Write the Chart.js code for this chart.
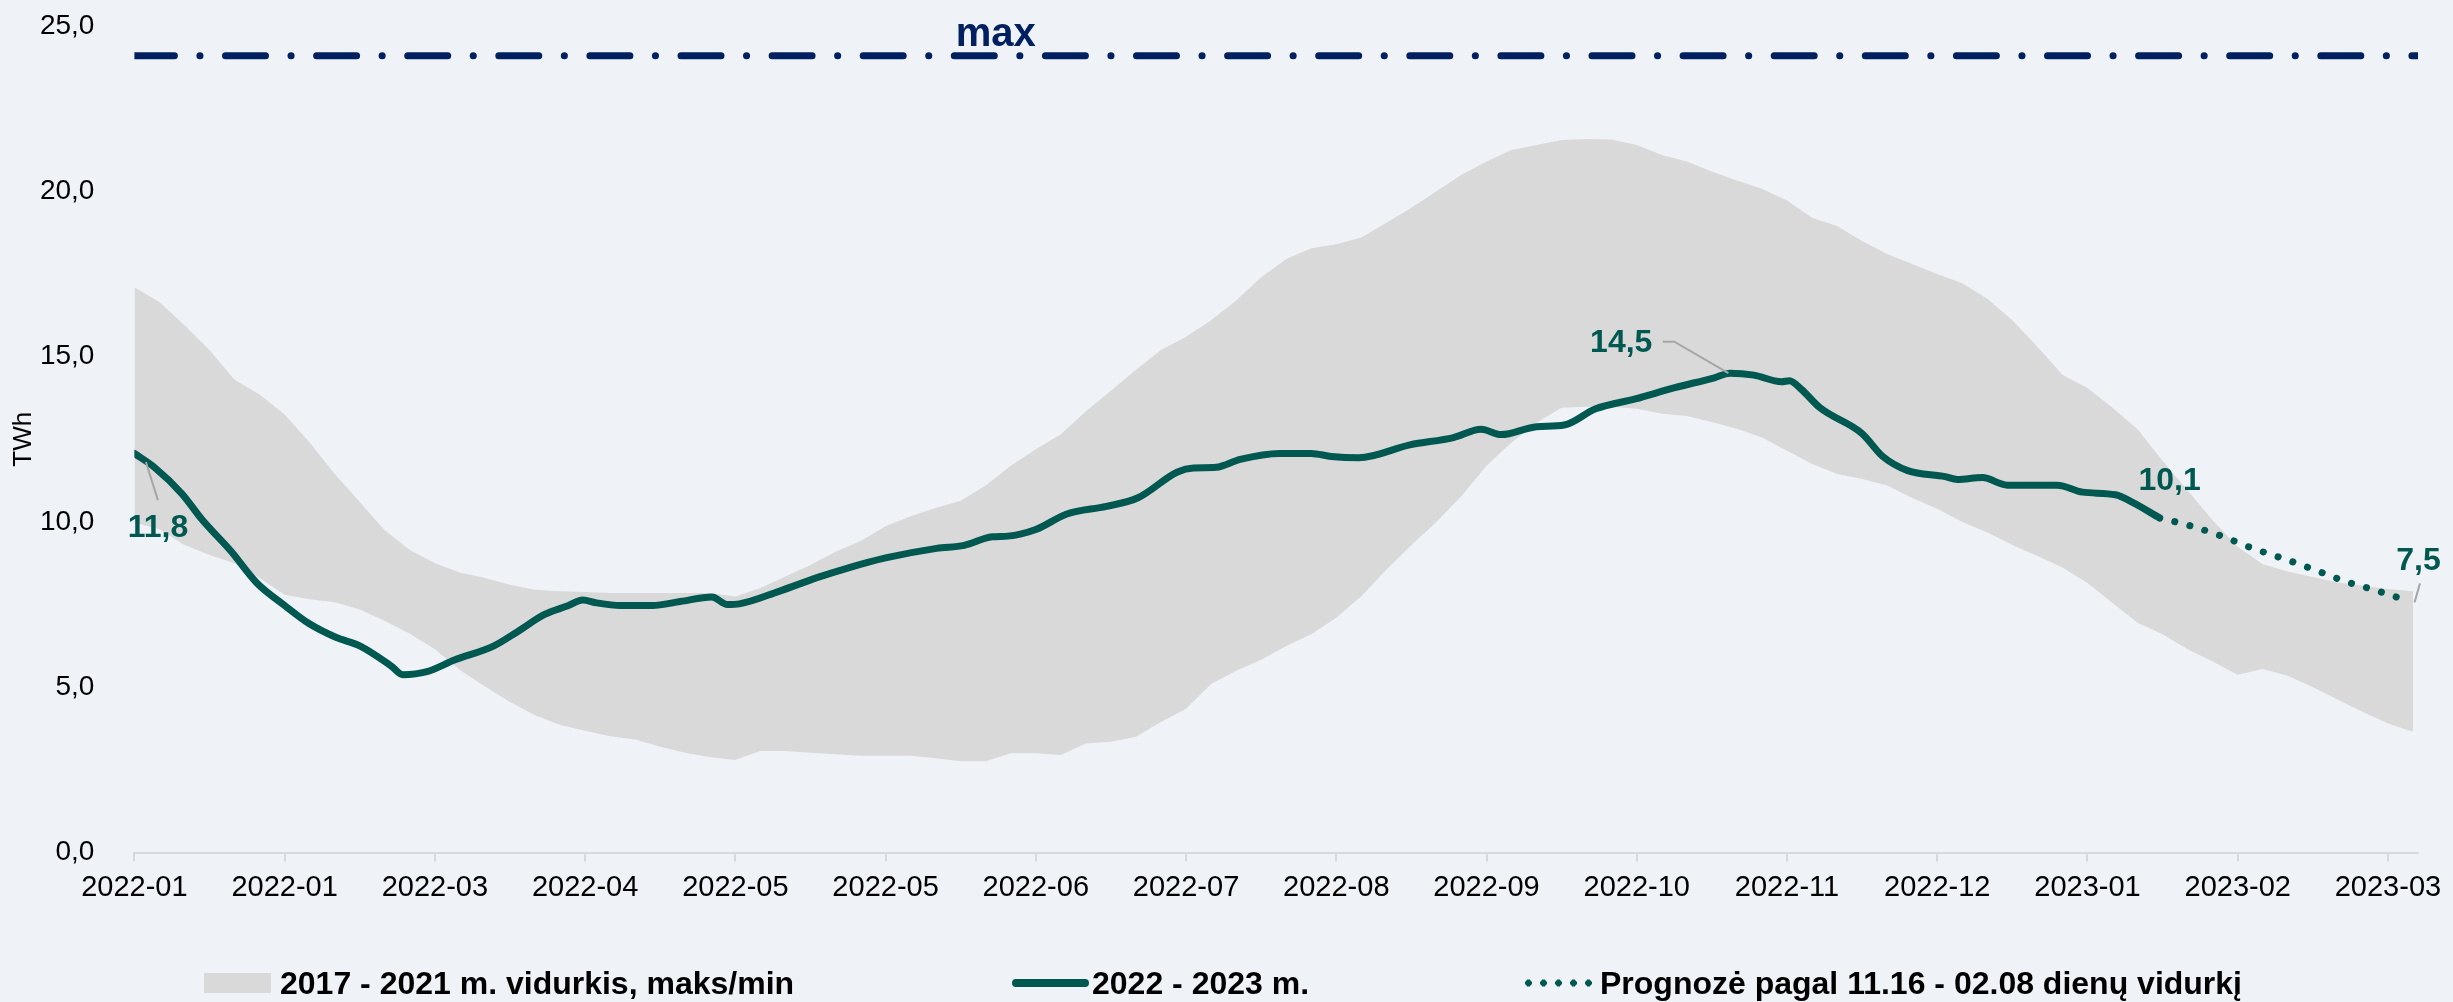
<!DOCTYPE html>
<html lang="lt">
<head>
  <meta charset="UTF-8" />
  <title>Dujų saugykla, TWh</title>
  <script src="https://cdn.jsdelivr.net/npm/chart.js@4.4.1/dist/chart.umd.min.js"></script>
  <style>
    html, body { margin: 0; padding: 0; background: #eff3f7; }
    body { font-family: 'Liberation Sans', Arial, sans-serif; }
    .wrap { position: relative; width: 2453px; height: 1002px; }
    .legend { position: absolute; left: 0; top: 983px; width: 100%; height: 0; }
    .legend .sw, .legend .txt { position: absolute; top: 0; transform: translateY(-50%); }
    .legend .txt { font-weight: 700; font-size: 32px; color: #000; white-space: nowrap; }
    .sw.box { left: 204px; width: 67px; height: 20px; background: #d9d9d9; }
    .sw.line { left: 1012px; width: 77px; height: 8px; border-radius: 4px; background: #005850; }
    .sw.dots { left: 1521px; width: 75px; height: 7px;
      background: radial-gradient(circle, #005850 3.2px, transparent 3.6px) 0 0 / 15px 7px repeat-x; }
  </style>
</head>
<body>
  <div class="wrap">
    <canvas id="storageChart"></canvas>
    <div class="legend">
      <div class="sw box"></div><div class="txt" style="left:280px">2017 - 2021 m. vidurkis, maks/min</div>
      <div class="sw line"></div><div class="txt" style="left:1092px">2022 - 2023 m.</div>
      <div class="sw dots"></div><div class="txt" style="left:1600px">Prognozė pagal 11.16 - 02.08 dienų vidurkį</div>
    </div>
  </div>

  <script>
    // x values are days counted from 2022-01-01
    const tickDays = [0, 30, 60, 90, 120, 150, 180, 210, 240, 270, 300, 330, 360, 390, 420, 450];
    const tickLabels = ["2022-01", "2022-01", "2022-03", "2022-04", "2022-05", "2022-05", "2022-06", "2022-07",
      "2022-08", "2022-09", "2022-10", "2022-11", "2022-12", "2023-01", "2023-02", "2023-03"];

    // 2017-2021 band
    const bandDays = [0, 5, 10, 15, 20, 25, 30, 35, 40, 45, 50, 55, 60, 65, 70, 75, 80, 85, 90, 95,
      100, 105, 110, 115, 120, 125, 130, 135, 140, 145, 150, 155, 160, 165, 170, 175, 180, 185, 190, 195,
      200, 205, 210, 215, 220, 225, 230, 235, 240, 245, 250, 255, 260, 265, 270, 275, 280, 285, 290, 295,
      300, 305, 310, 315, 320, 325, 330, 335, 340, 345, 350, 355, 360, 365, 370, 375, 380, 385, 390, 395,
      400, 405, 410, 415, 420, 425, 430, 435, 440, 445, 450, 455];
    const bandMax = [17.1, 16.65, 15.95, 15.2, 14.3, 13.85, 13.25, 12.4, 11.45, 10.6,
      9.75, 9.15, 8.75, 8.47, 8.3, 8.1, 7.95, 7.9, 7.88, 7.85,
      7.85, 7.85, 7.85, 7.85, 7.74, 8.0, 8.35, 8.7, 9.1, 9.42,
      9.87, 10.17, 10.42, 10.64, 11.1, 11.7, 12.2, 12.65, 13.35, 13.97,
      14.6, 15.2, 15.6, 16.1, 16.7, 17.4, 17.95, 18.28, 18.4, 18.6,
      19.05, 19.5, 20.0, 20.5, 20.9, 21.25, 21.4, 21.55, 21.58, 21.57,
      21.4, 21.1, 20.9, 20.6, 20.33, 20.08, 19.72, 19.2, 18.95, 18.5,
      18.1, 17.8, 17.5, 17.22, 16.75, 16.1, 15.3, 14.45, 14.05, 13.45,
      12.8, 11.85, 10.95, 10.05, 9.25, 8.72, 8.5, 8.33, 8.17, 8.07,
      7.97, 7.9];
    const bandMin = [9.98, 9.78, 9.3, 9.0, 8.75, 8.3, 7.8, 7.66, 7.57, 7.35,
      7.0, 6.62, 6.15, 5.52, 5.02, 4.55, 4.15, 3.86, 3.68, 3.52,
      3.42, 3.2, 3.02, 2.88, 2.8, 3.07, 3.07, 3.02, 2.97, 2.93,
      2.93, 2.93, 2.85, 2.76, 2.76, 3.0, 3.0, 2.95, 3.3, 3.35,
      3.5, 3.95, 4.35, 5.1, 5.5, 5.83, 6.25, 6.6, 7.1, 7.75,
      8.55, 9.3, 10.0, 10.78, 11.7, 12.4, 13.0, 13.45, 13.48, 13.48,
      13.42, 13.27, 13.2, 13.02, 12.82, 12.55, 12.15, 11.75, 11.45, 11.3,
      11.1, 10.72, 10.4, 10.0, 9.68, 9.3, 8.97, 8.62, 8.15, 7.55,
      6.95, 6.6, 6.15, 5.78, 5.38, 5.55, 5.35, 5.0, 4.62, 4.25,
      3.9, 3.65];

    // 2022 - 2023 actual
    const actualDays = [0, 4, 9.5, 13.5, 19.3, 24.4, 30, 34.7, 40.2, 45, 51.3, 53.6, 58.4, 63.9, 71.8, 76.5,
      81.9, 86.7, 89.5, 92.3, 97, 103.4, 109, 115.3, 118.4, 120.8, 128.7, 136.6, 142.1, 150, 160.2, 165.7,
      171.3, 174.4, 180, 186.2, 194.1, 200.4, 208.3, 211.5, 216, 220.8, 228.7, 235, 239, 244.5, 254.7, 263.4,
      268.9, 272.9, 280, 285.5, 291.8, 299.7, 307.6, 315.5, 318.6, 323.4, 328.9, 330.5, 332.8, 336.6, 345,
      349.1, 354.1, 361.6, 364, 369, 374, 384, 389, 395.6, 399, 404.4];
    const actualValues = [12.07, 11.65, 10.85, 10.07, 9.11, 8.16, 7.47, 6.94, 6.51, 6.25, 5.64, 5.38, 5.47, 5.82, 6.25, 6.68,
      7.2, 7.47, 7.64, 7.55, 7.47, 7.47, 7.59, 7.73, 7.5, 7.52, 7.9, 8.33, 8.59, 8.91, 9.2, 9.29,
      9.55, 9.57, 9.77, 10.24, 10.47, 10.73, 11.51, 11.63, 11.65, 11.89, 12.07, 12.07, 11.98, 11.94, 12.33, 12.55,
      12.8, 12.64, 12.88, 12.93, 13.42, 13.72, 14.06, 14.36, 14.5, 14.44, 14.24, 14.27, 14.02, 13.45, 12.67,
      11.98, 11.55, 11.37, 11.28, 11.34, 11.11, 11.11, 10.9, 10.82, 10.59, 10.12];

    // forecast
    const forecastDays = [404.4, 410.6, 416.8, 423, 429.1, 435.2, 441.3, 447.6, 453.8];
    const forecastValues = [10.12, 9.88, 9.57, 9.2, 8.89, 8.56, 8.21, 7.93, 7.62];

    const maxCapacity = 24.1;
    const xEnd = 456;

    const TEAL = '#005850';
    const NAVY = '#002060';

    const pts = (xs, ys) => xs.map((x, i) => ({ x, y: ys[i] }));

    // value call-outs (text, anchor and leader line in data units)
    const callouts = [
      { text: '11,8', x: 4.7, y: 9.81, leader: [[2.3, 11.81], [4.7, 10.66]] },
      { text: '14,5', x: 296.9, y: 15.41, leader: [[305.2, 15.45], [307.5, 15.45], [318.3, 14.5]] },
      { text: '10,1', x: 406.4, y: 11.23, leader: null },
      { text: '7,5', x: 456.1, y: 8.81, leader: [[456.4, 8.14], [455.3, 7.56]] }
    ];

    const calloutPlugin = {
      id: 'callouts',
      afterDatasetsDraw(chart) {
        const { ctx, scales: { x, y } } = chart;
        ctx.save();
        // "max" tag above the capacity line
        ctx.font = "bold 40px 'Liberation Sans', Arial, sans-serif";
        ctx.fillStyle = NAVY;
        ctx.textAlign = 'center';
        ctx.textBaseline = 'alphabetic';
        ctx.fillText('max', x.getPixelForValue(172), y.getPixelForValue(24.39));

        callouts.forEach(c => {
          if (c.leader) {
            ctx.beginPath();
            ctx.strokeStyle = '#a6a6a6';
            ctx.lineWidth = 2;
            c.leader.forEach(([lx, ly], i) => {
              const px = x.getPixelForValue(lx), py = y.getPixelForValue(ly);
              i ? ctx.lineTo(px, py) : ctx.moveTo(px, py);
            });
            ctx.stroke();
          }
          ctx.font = "bold 32px 'Liberation Sans', Arial, sans-serif";
          ctx.fillStyle = TEAL;
          ctx.textAlign = 'center';
          ctx.textBaseline = 'middle';
          ctx.fillText(c.text, x.getPixelForValue(c.x), y.getPixelForValue(c.y));
        });
        ctx.restore();
      }
    };

    const bgPlugin = {
      id: 'bg',
      beforeDraw(chart) {
        const { ctx, width, height } = chart;
        ctx.save();
        ctx.fillStyle = '#eff3f7';
        ctx.fillRect(0, 0, width, height);
        ctx.restore();
      }
    };

    Chart.defaults.font.family = "'Liberation Sans', Arial, sans-serif";
    Chart.defaults.color = '#000';

    new Chart(document.getElementById('storageChart'), {
      type: 'line',
      data: {
        datasets: [
          {
            label: '2022 - 2023 m.',
            data: pts(actualDays, actualValues),
            borderColor: TEAL,
            borderWidth: 7,
            borderCapStyle: 'round',
            borderJoinStyle: 'round',
            cubicInterpolationMode: 'monotone',
            pointRadius: 0,
            fill: false
          },
          {
            label: 'Prognozė pagal 11.16 - 02.08 dienų vidurkį',
            data: pts(forecastDays, forecastValues),
            borderColor: TEAL,
            borderWidth: 7,
            borderDash: [0.1, 15.5],
            borderCapStyle: 'round',
            cubicInterpolationMode: 'monotone',
            pointRadius: 0,
            fill: false
          },
          {
            label: 'max',
            data: [{ x: 0, y: maxCapacity }, { x: xEnd, y: maxCapacity }],
            borderColor: NAVY,
            borderWidth: 7,
            borderDash: [40, 25.5, 0.1, 25.5],
            borderCapStyle: 'round',
            pointRadius: 0,
            fill: false
          },
          {
            label: '2017 - 2021 m. vidurkis, maks/min',
            data: pts(bandDays, bandMax),
            borderWidth: 0,
            borderColor: 'rgba(0,0,0,0)',
            backgroundColor: '#d9d9d9',
            pointRadius: 0,
            fill: '+1'
          },
          {
            label: 'min',
            data: pts(bandDays, bandMin),
            borderWidth: 0,
            borderColor: 'rgba(0,0,0,0)',
            pointRadius: 0,
            fill: false
          }
        ]
      },
      options: {
        responsive: true,
        maintainAspectRatio: false,
        animation: false,
        layout: { padding: { top: 26, right: 35, bottom: 79.5, left: 0 } },
        plugins: {
          legend: { display: false },
          tooltip: { enabled: false }
        },
        scales: {
          x: {
            type: 'linear',
            min: 0,
            max: xEnd,
            afterBuildTicks: s => { s.ticks = tickDays.map(v => ({ value: v })); },
            afterFit: s => { s.height = 70; },
            ticks: {
              autoSkip: false,
              maxRotation: 0,
              padding: 9,
              font: { size: 29 },
              callback: (v, i) => tickLabels[i]
            },
            grid: { drawOnChartArea: false, color: '#d9d9d9', lineWidth: 2, tickLength: 9 },
            border: { color: '#d9d9d9', width: 2 }
          },
          y: {
            min: 0,
            max: 25,
            // keep the tick padding from pushing the plot area down
            afterFit: s => { s.width = 134.4; s.paddingTop = 17; s.paddingBottom = 17; },
            ticks: {
              stepSize: 5,
              padding: 32,
              font: { size: 28 },
              callback: v => v.toFixed(1).replace('.', ',')
            },
            grid: { display: false },
            border: { display: false },
            title: { display: true, text: 'TWh', font: { size: 26 }, padding: { top: 8, bottom: 0 } }
          }
        }
      },
      plugins: [bgPlugin, calloutPlugin]
    });
  </script>
</body>
</html>
